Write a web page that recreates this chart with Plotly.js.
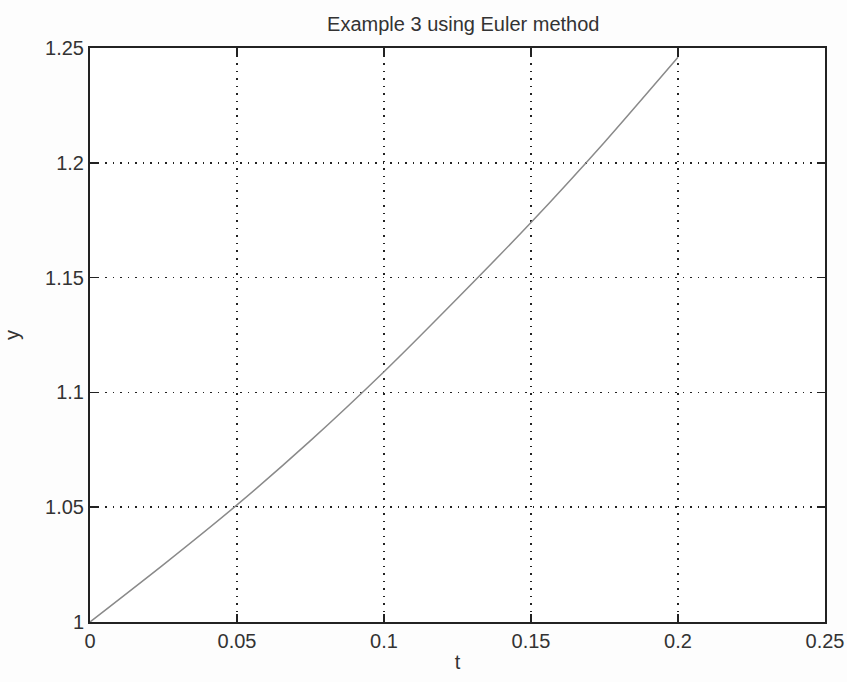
<!DOCTYPE html>
<html>
<head>
<meta charset="utf-8">
<script src="https://cdn.plot.ly/plotly-3.0.1.min.js"></script>
<style>html,body{margin:0;padding:0;background:#fff;}#chart{width:847px;height:682px;}</style>
</head>
<body>
<div id="chart"></div>
<script>
const tValues = [0, 0.025, 0.05, 0.075, 0.1, 0.125, 0.15, 0.175, 0.2];
const yValues = [1, 1.025, 1.051, 1.079, 1.109, 1.141, 1.174, 1.209, 1.246];
const xTickVals = [0, 0.05, 0.1, 0.15, 0.2, 0.25];
const xTickText = ['0', '0.05', '0.1', '0.15', '0.2', '0.25'];
const yTickVals = [1, 1.05, 1.1, 1.15, 1.2, 1.25];
const yTickText = ['1', '1.05', '1.1', '1.15', '1.2', '1.25'];

const font = {family: 'Liberation Sans, Arial, sans-serif', color: '#333'};

Plotly.newPlot('chart', [{
  x: tValues, y: yValues, type: 'scatter', mode: 'lines', line: {shape: 'spline', smoothing: 0.6, color: '#8a8a8a', width: 1.5},
  hoverinfo: 'skip'
}], {
  width: 847, height: 682,
  paper_bgcolor: '#fdfdfd', plot_bgcolor: '#ffffff',
  margin: {l: 90, r: 22, t: 48, b: 60},
  showlegend: false,
  title: {text: 'Example 3 using Euler method', x: 0.547, xanchor: 'center', y: 0.965, yanchor: 'middle',
          font: Object.assign({size: 20}, font)},
  xaxis: {
    range: [0, 0.25], tickvals: xTickVals, ticktext: xTickText,
    showgrid: true, gridcolor: '#222', griddash: '1.5px,6px', gridwidth: 1.5,
    zeroline: false, showline: true, linecolor: '#222', linewidth: 2, mirror: 'ticks',
    ticks: 'inside', ticklen: 8, tickcolor: '#222', tickwidth: 1.5,
    tickfont: Object.assign({size: 20}, font),
    title: {text: 't', standoff: 4, font: Object.assign({size: 20}, font)}
  },
  yaxis: {
    range: [1, 1.25], tickvals: yTickVals, ticktext: yTickText,
    showgrid: true, gridcolor: '#222', griddash: '1.5px,6px', gridwidth: 1.5,
    zeroline: false, showline: true, linecolor: '#222', linewidth: 2, mirror: 'ticks',
    ticks: 'inside', ticklen: 8, tickcolor: '#222', tickwidth: 1.5,
    tickfont: Object.assign({size: 20}, font),
    title: {text: 'y', standoff: 20, font: Object.assign({size: 20}, font)}
  }
}, {displayModeBar: false, staticPlot: true});
</script>
</body>
</html>
